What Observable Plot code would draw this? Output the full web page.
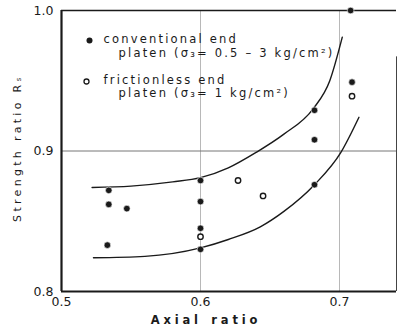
<!DOCTYPE html>
<html>
<head>
<meta charset="utf-8">
<script src="https://cdn.jsdelivr.net/npm/d3@7"></script>
<script src="https://cdn.jsdelivr.net/npm/@observablehq/plot@0.6"></script>
<style>
  html, body { margin: 0; padding: 0; background: #fff; }
  #chart { width: 398px; height: 330px; }
</style>
</head>
<body>
<div id="chart"></div>
<script>
// Data
const xDomain = [0.5, 0.741];
const yDomain = [0.8, 1.0];
const xTicks = [0.5, 0.6, 0.7];
const yTicks = [0.8, 0.9, 1.0];

// conventional end platen (filled)
const convX = [0.708, 0.709, 0.682, 0.682, 0.682, 0.6, 0.6, 0.6, 0.6, 0.534, 0.534, 0.547, 0.533];
const convY = [1.0, 0.949, 0.929, 0.908, 0.876, 0.879, 0.864, 0.845, 0.830, 0.872, 0.862, 0.859, 0.833];

// frictionless end platen (open)
const fricX = [0.709, 0.627, 0.645, 0.6];
const fricY = [0.939, 0.879, 0.868, 0.839];

// fitted curves
const upperX = [0.522, 0.55, 0.58, 0.6, 0.62, 0.64, 0.66, 0.681, 0.693, 0.702];
const upperY = [0.874, 0.875, 0.878, 0.881, 0.888, 0.899, 0.912, 0.930, 0.950, 0.981];
const lowerX = [0.523, 0.56, 0.6, 0.62, 0.643, 0.66, 0.682, 0.701, 0.714];
const lowerY = [0.824, 0.825, 0.831, 0.837, 0.846, 0.857, 0.876, 0.899, 0.924];

const legendLines = [
  "conventional end",
  "platen (σ₃= 0.5 – 3 kg/cm²)",
  "frictionless end",
  "platen (σ₃= 1 kg/cm²)"
];
const xTitle = "Axial\u2002ratio";
const yTitle = "Strength ratio Rₛ";

const conv = convX.map((x, i) => ({x, y: convY[i]}));
const fric = fricX.map((x, i) => ({x, y: fricY[i]}));
const upper = upperX.map((x, i) => ({x, y: upperY[i]}));
const lower = lowerX.map((x, i) => ({x, y: lowerY[i]}));

const font = "DejaVu Sans, sans-serif";
const ink = "#1a1a1a";

const plot = Plot.plot({
  width: 398,
  height: 330,
  marginLeft: 61,
  marginRight: 2,
  marginTop: 10,
  marginBottom: 39,
  style: {fontFamily: font, background: "#fff", color: ink},
  x: {domain: xDomain, axis: null},
  y: {domain: yDomain, axis: null},
  marks: [
    // grid lines
    Plot.ruleX([0.6, 0.7], {stroke: "#b8b8b8", strokeWidth: 1}),
    Plot.ruleY([0.9], {stroke: "#777", strokeWidth: 1}),
    // frame
    Plot.ruleY([yDomain[1]], {stroke: ink, strokeWidth: 1.5}),
    Plot.ruleX([xDomain[1]], {y1: yDomain[0], y2: 0.967, stroke: "#444", strokeWidth: 1}),
    Plot.ruleX([xDomain[0]], {stroke: ink, strokeWidth: 2.2}),
    Plot.ruleY([yDomain[0]], {stroke: ink, strokeWidth: 2.2}),
    // axes
    Plot.axisY({ticks: yTicks, tickSize: 0, tickPadding: 8, tickFormat: d3.format(".1f"), label: null, fontSize: 12.5}),
    Plot.axisX({ticks: xTicks, tickSize: 0, tickPadding: 6, tickFormat: d3.format(".1f"), label: null, fontSize: 12.5}),
    // curves
    Plot.line(upper, {x: "x", y: "y", curve: "monotone-x", stroke: ink, strokeWidth: 1.4}),
    Plot.line(lower, {x: "x", y: "y", curve: "monotone-x", stroke: ink, strokeWidth: 1.4}),
    // points
    Plot.dot(conv, {x: "x", y: "y", r: 3.3, fill: ink, stroke: "#fff", strokeWidth: 0.6}),
    Plot.dot(fric, {x: "x", y: "y", r: 2.7, fill: "#fff", stroke: ink, strokeWidth: 1.4}),
    // legend
    Plot.dot([0], {frameAnchor: "top-left", dx: 28, dy: 30, r: 3.0, fill: ink}),
    Plot.dot([0], {frameAnchor: "top-left", dx: 25, dy: 71, r: 2.5, fill: "#fff", stroke: ink, strokeWidth: 1.3}),
    Plot.text([legendLines[0]], {text: d => d, frameAnchor: "top-left", dx: 42, dy: 29, textAnchor: "start", lineAnchor: "middle", fontSize: 11.5, fill: ink}),
    Plot.text([legendLines[1]], {text: d => d, frameAnchor: "top-left", dx: 57, dy: 43, textAnchor: "start", lineAnchor: "middle", fontSize: 11.5, fill: ink}),
    Plot.text([legendLines[2]], {text: d => d, frameAnchor: "top-left", dx: 42, dy: 69.5, textAnchor: "start", lineAnchor: "middle", fontSize: 11.5, fill: ink}),
    Plot.text([legendLines[3]], {text: d => d, frameAnchor: "top-left", dx: 57, dy: 82.5, textAnchor: "start", lineAnchor: "middle", fontSize: 11.5, fill: ink}),
    // axis titles
    Plot.text([xTitle], {text: d => d, frameAnchor: "bottom", dx: -23, dy: 29, textAnchor: "middle", lineAnchor: "middle", fontSize: 11.5, fontWeight: "bold", fill: ink}),
    Plot.text([yTitle], {text: d => d, frameAnchor: "left", dx: -44, dy: -3, rotate: -90, textAnchor: "middle", lineAnchor: "middle", fontSize: 11, fill: ink})
  ]
});

const svgSel = d3.select(plot);
svgSel.selectAll("text").each(function() {
  const t = this.textContent;
  let ls = null;
  if (legendLines.includes(t)) ls = "2.2px";
  else if (t === xTitle) ls = "3.8px";
  else if (t === yTitle) ls = "3.3px";
  if (ls) this.style.letterSpacing = ls;
});

document.getElementById("chart").appendChild(plot);
</script>
</body>
</html>
